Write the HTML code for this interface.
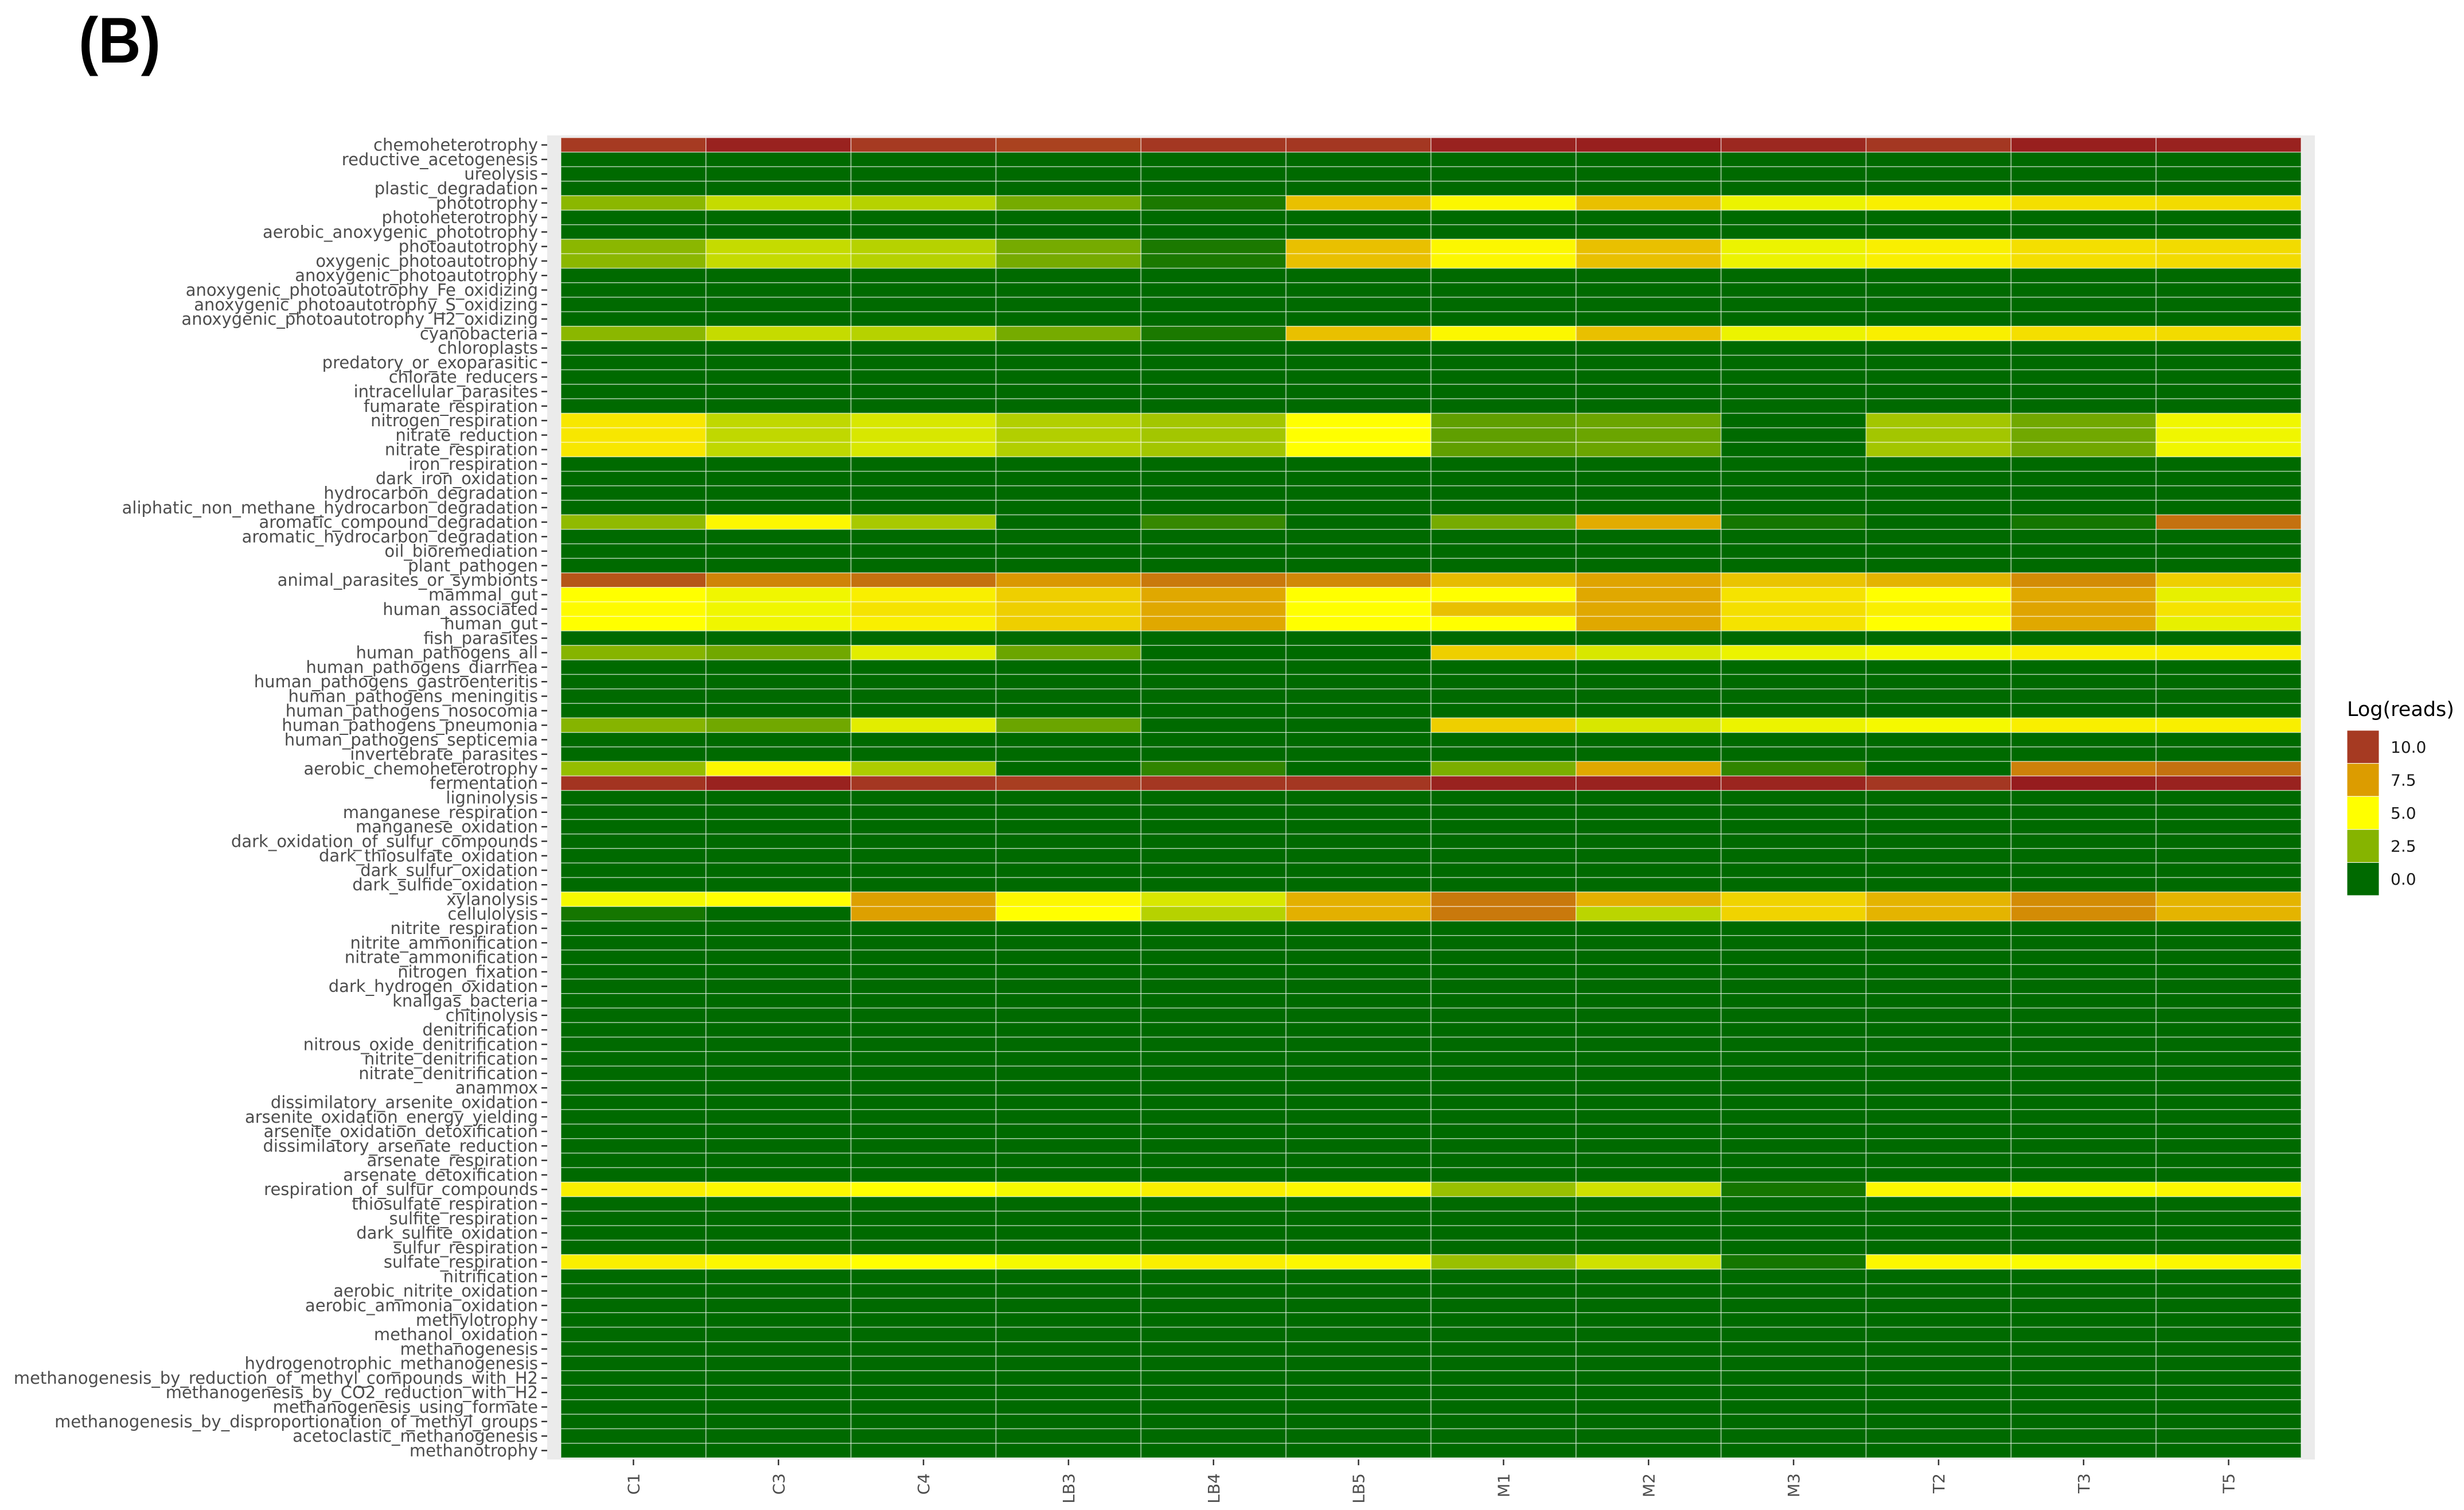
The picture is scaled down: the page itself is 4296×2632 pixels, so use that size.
<!DOCTYPE html>
<html><head><meta charset="utf-8">
<style>
html,body{margin:0;padding:0;background:#fff;}
svg{display:block;}
</style></head>
<body>
<svg id="chart" width="4296" height="2632" viewBox="0 0 4296 2632" xmlns="http://www.w3.org/2000/svg">
<text x="0" y="0" transform="translate(137,109) scale(0.92,1)" font-family="Liberation Sans, sans-serif" font-weight="bold" font-size="112">(B)</text>
<rect x="954" y="236" width="3082" height="2308" fill="#ebebeb"/>
<g id="tiles"></g>
<g id="yaxis"></g>
<g id="xaxis"></g>
<g id="legend">
<text x="4092" y="1248" font-family="DejaVu Sans, sans-serif" font-size="35" fill="#000">Log(reads)</text>
</g>
</svg>
<script>
const samples = ["C1","C3","C4","LB3","LB4","LB5","M1","M2","M3","T2","T3","T5"];
const functions = ["chemoheterotrophy","reductive_acetogenesis","ureolysis","plastic_degradation","phototrophy","photoheterotrophy","aerobic_anoxygenic_phototrophy","photoautotrophy","oxygenic_photoautotrophy","anoxygenic_photoautotrophy","anoxygenic_photoautotrophy_Fe_oxidizing","anoxygenic_photoautotrophy_S_oxidizing","anoxygenic_photoautotrophy_H2_oxidizing","cyanobacteria","chloroplasts","predatory_or_exoparasitic","chlorate_reducers","intracellular_parasites","fumarate_respiration","nitrogen_respiration","nitrate_reduction","nitrate_respiration","iron_respiration","dark_iron_oxidation","hydrocarbon_degradation","aliphatic_non_methane_hydrocarbon_degradation","aromatic_compound_degradation","aromatic_hydrocarbon_degradation","oil_bioremediation","plant_pathogen","animal_parasites_or_symbionts","mammal_gut","human_associated","human_gut","fish_parasites","human_pathogens_all","human_pathogens_diarrhea","human_pathogens_gastroenteritis","human_pathogens_meningitis","human_pathogens_nosocomia","human_pathogens_pneumonia","human_pathogens_septicemia","invertebrate_parasites","aerobic_chemoheterotrophy","fermentation","ligninolysis","manganese_respiration","manganese_oxidation","dark_oxidation_of_sulfur_compounds","dark_thiosulfate_oxidation","dark_sulfur_oxidation","dark_sulfide_oxidation","xylanolysis","cellulolysis","nitrite_respiration","nitrite_ammonification","nitrate_ammonification","nitrogen_fixation","dark_hydrogen_oxidation","knallgas_bacteria","chitinolysis","denitrification","nitrous_oxide_denitrification","nitrite_denitrification","nitrate_denitrification","anammox","dissimilatory_arsenite_oxidation","arsenite_oxidation_energy_yielding","arsenite_oxidation_detoxification","dissimilatory_arsenate_reduction","arsenate_respiration","arsenate_detoxification","respiration_of_sulfur_compounds","thiosulfate_respiration","sulfite_respiration","dark_sulfite_oxidation","sulfur_respiration","sulfate_respiration","nitrification","aerobic_nitrite_oxidation","aerobic_ammonia_oxidation","methylotrophy","methanol_oxidation","methanogenesis","hydrogenotrophic_methanogenesis","methanogenesis_by_reduction_of_methyl_compounds_with_H2","methanogenesis_by_CO2_reduction_with_H2","methanogenesis_using_formate","methanogenesis_by_disproportionation_of_methyl_groups","acetoclastic_methanogenesis","methanotrophy"];
const Z = [0,0,0,0,0,0,0,0,0,0,0,0];
const chemo = [10.0,10.8,10.0,9.8,10.1,10.1,10.8,10.9,10.6,10.1,10.9,10.8];
const photo = [2.6,3.8,3.5,2.2,0.5,6.6,5.2,6.6,4.6,5.4,5.8,5.9];
const nitro = [5.6,3.7,4.2,3.4,3.1,5.0,1.8,2.0,0,3.1,2.1,4.7];
const aromatic = [2.7,5.2,3.2,0,1.0,0,2.2,7.1,0.4,0,0.4,8.6];
const animal = [9.3,8.1,8.6,7.6,8.4,8.0,6.7,7.3,6.5,6.9,7.9,6.2];
const mammalGut = [5.0,4.7,5.4,6.2,7.2,5.0,5.0,7.2,5.7,5.0,7.2,4.5];
const humanAssoc = [5.1,4.7,5.7,6.2,7.2,5.0,6.6,7.2,5.8,5.4,7.3,5.7];
const pathAll = [2.5,2.1,4.4,2.0,0,0,6.2,4.2,4.6,4.8,5.4,5.4];
const aerobicChemo = [2.8,5.2,3.3,0,0.9,0,2.3,7.2,0.9,0,8.2,8.6];
const ferment = [10.2,10.8,10.1,9.9,10.1,10.1,10.8,10.8,10.7,10.1,11.0,10.8];
const xylan = [4.8,5.0,7.4,5.2,4.2,7.0,8.4,7.0,6.1,6.9,7.9,6.9];
const cellulo = [0.4,0,7.4,5.0,3.5,7.0,8.4,3.6,6.1,6.9,7.9,6.9];
const sulfur = [5.4,5.2,5.0,4.8,5.4,5.2,2.9,4.0,0.4,5.2,4.9,5.2];
const values = [chemo,Z,Z,Z,photo,Z,Z,photo,photo,Z,Z,Z,Z,photo,Z,Z,Z,Z,Z,nitro,nitro,nitro,Z,Z,Z,Z,aromatic,Z,Z,Z,animal,mammalGut,humanAssoc,mammalGut,Z,pathAll,Z,Z,Z,Z,pathAll,Z,Z,aerobicChemo,ferment,Z,Z,Z,Z,Z,Z,Z,xylan,cellulo,Z,Z,Z,Z,Z,Z,Z,Z,Z,Z,Z,Z,Z,Z,Z,Z,Z,Z,sulfur,Z,Z,Z,Z,sulfur,Z,Z,Z,Z,Z,Z,Z,Z,Z,Z,Z,Z,Z];
const legendBreaks = [10.0,7.5,5.0,2.5,0.0];
const legendLabels = ["10.0","7.5","5.0","2.5","0.0"];

const NS = "http://www.w3.org/2000/svg";
const X0 = 978, X1 = 4012, Y0 = 240, Y1 = 2541;
const cw = (X1 - X0) / samples.length, rh = (Y1 - Y0) / functions.length;
const xPos = i => X0 + i * cw;
const yPos = j => Y0 + j * rh;
const stops = [[0,[0,106,0]],[2.5,[134,180,0]],[5,[255,255,0]],[7.5,[220,156,0]],[10,[166,58,34]],[11,[150,28,30]]];
function color(v){
  if (v <= stops[0][0]) return "rgb(" + stops[0][1].join(",") + ")";
  for (let k = 1; k < stops.length; k++){
    if (v <= stops[k][0]){
      const [a, ca] = stops[k-1], [b, cb] = stops[k];
      const t = (v - a) / (b - a);
      return "rgb(" + ca.map((c, i) => Math.round(c + (cb[i] - c) * t)).join(",") + ")";
    }
  }
  return "rgb(" + stops[stops.length-1][1].join(",") + ")";
}
function mk(tag, attrs, parent){
  const e = document.createElementNS(NS, tag);
  for (const k in attrs) e.setAttribute(k, attrs[k]);
  parent.appendChild(e);
  return e;
}
const tiles = document.getElementById("tiles");
values.forEach((row, j) => {
  row.forEach((v, i) => {
    const r = mk("rect", {x: xPos(i), y: yPos(j), width: cw, height: rh, fill: color(v), stroke: "rgba(255,255,255,0.55)", "stroke-width": 1.5}, tiles);
    
    
  });
});
const yaxis = document.getElementById("yaxis");
functions.forEach((f, j) => {
  const cy = yPos(j) + rh / 2;
  const tk = mk("line", {x1: 944, x2: 954, y1: cy, y2: cy, stroke: "#333", "stroke-width": 2.5}, yaxis);
  
  
  const t = mk("text", {x: 938, y: cy + 10, "text-anchor": "end", "font-family": "DejaVu Sans, sans-serif", "font-size": 29, fill: "#4d4d4d"}, yaxis);
  t.textContent = f;
  
  
});
const xaxis = document.getElementById("xaxis");
samples.forEach((s, i) => {
  const cx = xPos(i) + cw / 2;
  const tk = mk("line", {x1: cx, x2: cx, y1: 2544, y2: 2554, stroke: "#333", "stroke-width": 2.5}, xaxis);
  
  
  const t = mk("text", {x: 0, y: 0, "text-anchor": "end", "font-family": "DejaVu Sans, sans-serif", "font-size": 28, fill: "#4d4d4d", transform: "translate(" + (cx + 10) + ",2568) rotate(-90)"}, xaxis);
  t.textContent = s;
  
  
});
const legend = document.getElementById("legend");
const kh = 57.6;
legendBreaks.forEach((b, k) => {
  const ky = 1273 + k * kh;
  const r = mk("rect", {x: 4092, y: ky, width: 56, height: kh, fill: color(b), stroke: "#fff", "stroke-width": 1}, legend);
  
  
  const t = mk("text", {x: 4168, y: ky + kh / 2 + 10, "font-family": "DejaVu Sans, sans-serif", "font-size": 28, fill: "#1a1a1a"}, legend);
  t.textContent = legendLabels[k];
  
  
});
</script>
</body></html>
